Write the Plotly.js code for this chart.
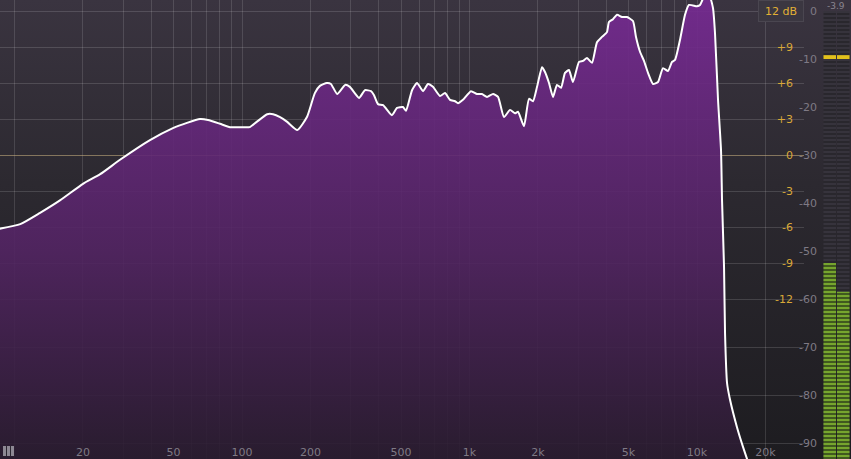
<!DOCTYPE html>
<html><head><meta charset="utf-8">
<script src="https://cdn.plot.ly/plotly-3.0.1.min.js"></script>
<style>
html,body{margin:0;padding:0;background:#1c1b1f;overflow:hidden;}
#chart{width:851px;height:459px;background:linear-gradient(to bottom,#3a3440 0%,#2c2930 40%,#1d1c20 100%);}
</style></head><body><div id="chart"></div>
<script>
// Spectrum (frequency in Hz, level in dB)
const freqHz = [8.5,10.6,12.9,15.9,20,23.8,29.1,39.4,49.7,57.3,65.4,70.9,80.1,88.6,100,108,116,129,137,147,158,175,193,209,220,236,246,262,284,298,327,347,369,380,396,417,456,480,510,526,559,588,625,657,691,742,780,821,864,890,936,1015,1079,1134,1194,1269,1335,1418,1507,1585,1634,1736,1826,1902,1981,2083,2147,2236,2328,2424,2525,2629,2737,2850,3030,3155,3285,3455,3634,3822,4020,4102,4272,4449,4679,4922,5231,5393,5617,5848,6090,6406,6739,7088,7456,7766,8006,8420,8858,9222,10000,10309,10735,11405,11757,11998,12370,12752,12882,13146,13280,13552,13970,14987,15929,16588,17451];
const levelDb = [-45.4,-44.4,-42.1,-39.4,-36.0,-34.0,-31.0,-26.9,-24.4,-23.3,-22.5,-22.7,-23.5,-24.2,-24.2,-24.2,-23.1,-21.5,-21.5,-22.1,-23.1,-24.8,-22.1,-17.1,-15.6,-15.0,-15.2,-17.3,-15.4,-15.8,-18.1,-16.5,-16.7,-17.5,-19.4,-19.6,-21.7,-20.2,-20.0,-20.8,-16.5,-15.0,-16.7,-15.2,-15.8,-17.7,-17.1,-18.5,-18.8,-19.2,-18.5,-16.7,-17.3,-17.3,-17.9,-17.3,-17.9,-22.1,-20.6,-21.3,-21.0,-24.0,-18.3,-18.8,-15.8,-11.7,-12.7,-15.0,-17.9,-15.4,-16.0,-12.9,-12.3,-14.8,-10.6,-10.4,-9.8,-10.8,-6.5,-5.4,-4.4,-2.3,-1.7,-0.8,-1.25,-1.25,-2.1,-5.4,-8.5,-10.4,-12.9,-15.2,-14.8,-11.9,-12.5,-10.6,-10.2,-6.0,-0.8,1.25,1.0,1.25,2.9,2.7,0.6,-4.6,-18.5,-29.0,-39.4,-53.3,-67.1,-77.5,-81.0,-86.7,-90.8,-93.3,-96.7];

const freqTickVals = [10,20,30,40,50,60,70,80,90,100,200,300,400,500,600,700,800,900,1000,2000,3000,4000,5000,6000,7000,8000,9000,10000,20000];
const freqTickText = ['','20','','','50','','','','','100','200','','','500','','','','','1k','2k','','','5k','','','','','10k','20k'];

const eqTickVals = [12,9,6,3,0,-3,-6,-9,-12,-16,-20,-24];
const eqTickText = ['','+9','+6','+3','0','-3','-6','-9','-12','','',''];

const specTickVals = [0,-10,-20,-30,-40,-50,-60,-70,-80,-90];
const specTickText = ['0','-10','-20','-30','-40','-50','-60','-70','-80','-90'];

const meterChannels = ['L','R'];
const meterLevelDb = [-52.5,-58.5];
const meterPeakDb = [-9.6,-9.6];
const meterTopDb = 0;
const meterFloorDb = -100;
const meterReadout = '-3.9';
const eqRangeLabel = '12 dB';

const specRange = [-93.33, 2.29];
const eqRange = [-25.33, 12.917];
const W = 851, H = 459;

const font = 'DejaVu Sans, Liberation Sans, sans-serif';
const gray = '#7f7a85';
const yellow = '#d9a838';

const traces = [
  {x:[], y:[], xaxis:'x', yaxis:'y', type:'scatter', mode:'lines', hoverinfo:'skip', showlegend:false},
  {x:[freqHz[0], freqHz[freqHz.length-1]], y:[-120,-120], xaxis:'x', yaxis:'y2', type:'scatter', mode:'lines',
   line:{width:0, color:'rgba(0,0,0,0)'}, hoverinfo:'skip', showlegend:false},
  {x:freqHz, y:levelDb, xaxis:'x', yaxis:'y2', type:'scatter', mode:'lines', fill:'tonexty',
   line:{color:'#ffffff', width:2, shape:'spline', smoothing:0.5},
   fillgradient:{type:'vertical', start:specRange[0], stop:specRange[1],
     colorscale:[[0,'rgba(42,28,48,0.9)'],[0.45,'rgba(82,36,98,0.9)'],[1,'rgba(118,42,146,0.92)']]},
   hoverinfo:'skip', showlegend:false},
  // meter background
  {x:meterChannels, y:meterChannels.map(()=>meterTopDb-meterFloorDb), base:meterFloorDb, type:'bar', xaxis:'x2', yaxis:'y3',
   marker:{color:'#36333c', line:{width:0}, pattern:{shape:'-', fillmode:'replace', bgcolor:'#36333c', fgcolor:'#201e23', size:4, solidity:0.3}},
   hoverinfo:'skip', showlegend:false},
  // meter level
  {x:meterChannels, y:meterLevelDb.map(v=>v-meterFloorDb), base:meterFloorDb, type:'bar', xaxis:'x2', yaxis:'y3',
   marker:{color:'#76a52e', line:{width:0}, pattern:{shape:'-', fillmode:'replace', bgcolor:'#76a52e', fgcolor:'#1d2614', size:4, solidity:0.3}},
   hoverinfo:'skip', showlegend:false},
  // meter peak hold
  {x:meterChannels, y:meterPeakDb.map(()=>0.8), base:meterPeakDb.map(v=>v-0.4), type:'bar', xaxis:'x2', yaxis:'y3',
   marker:{color:'#e2c11c', line:{width:0}}, hoverinfo:'skip', showlegend:false}
];

const layout = {
  width:W, height:H, margin:{l:0,r:0,t:0,b:0},
  paper_bgcolor:'rgba(0,0,0,0)', plot_bgcolor:'rgba(0,0,0,0)',
  font:{family:font, size:11, color:gray},
  showlegend:false, barmode:'overlay', bargap:0.07,
  xaxis:{type:'log', domain:[0, 804/W], range:[0.9363, 4.4703], anchor:'y',
    tickmode:'array', tickvals:freqTickVals, ticktext:freqTickText,
    showgrid:true, gridcolor:'rgba(255,255,255,0.13)', gridwidth:1, zeroline:false,
    showline:false, ticks:'', ticklabelposition:'inside', ticklabelstandoff:-2,
    tickfont:{family:font, size:11, color:gray}},
  yaxis:{range:eqRange, anchor:'free', position:796/W, side:'right',
    tickmode:'array', tickvals:eqTickVals, ticktext:eqTickText,
    showgrid:true, gridcolor:'rgba(255,255,255,0.14)', gridwidth:1,
    zeroline:true, zerolinecolor:'rgba(205,180,130,0.55)', zerolinewidth:1,
    showline:false, ticks:'', ticklabelposition:'inside',
    tickfont:{family:font, size:11, color:yellow}},
  yaxis2:{range:specRange, overlaying:'y', anchor:'free', position:820/W, side:'right',
    tickmode:'array', tickvals:specTickVals, ticktext:specTickText,
    showgrid:false, zeroline:false, showline:false, ticks:'', ticklabelposition:'inside',
    tickfont:{family:font, size:11, color:gray}},
  xaxis2:{domain:[823/W, 850/W], anchor:'y3', type:'category', visible:false, fixedrange:true},
  yaxis3:{domain:[0,1], anchor:'x2', range:specRange, visible:false},
  annotations:[
    {xref:'paper', yref:'paper', x:781/W, y:1-11/H, text:eqRangeLabel, showarrow:false,
     font:{family:font, size:11, color:'#e2b035'}, bgcolor:'#3b3741', bordercolor:'#4a4650', borderwidth:1, borderpad:2,
     width:40, height:16, xanchor:'center', yanchor:'middle'},
    {xref:'paper', yref:'paper', x:836/W, y:1-6/H, text:meterReadout, showarrow:false,
     font:{family:font, size:9, color:'#8a8590'}, xanchor:'center', yanchor:'middle'}
  ],
  shapes:[
    {type:'rect', xref:'paper', yref:'paper', x0:3/W, x1:14/W, y0:1-456/H, y1:1-446/H, fillcolor:'#8d8893', line:{width:0}},
    {type:'line', xref:'paper', yref:'paper', x0:6.5/W, x1:6.5/W, y0:1-456/H, y1:1-446/H, line:{color:'#2a2630', width:1}},
    {type:'line', xref:'paper', yref:'paper', x0:10.5/W, x1:10.5/W, y0:1-456/H, y1:1-446/H, line:{color:'#2a2630', width:1}}
  ]
};

Plotly.newPlot('chart', traces, layout, {displayModeBar:false, staticPlot:true});
</script></body></html>
